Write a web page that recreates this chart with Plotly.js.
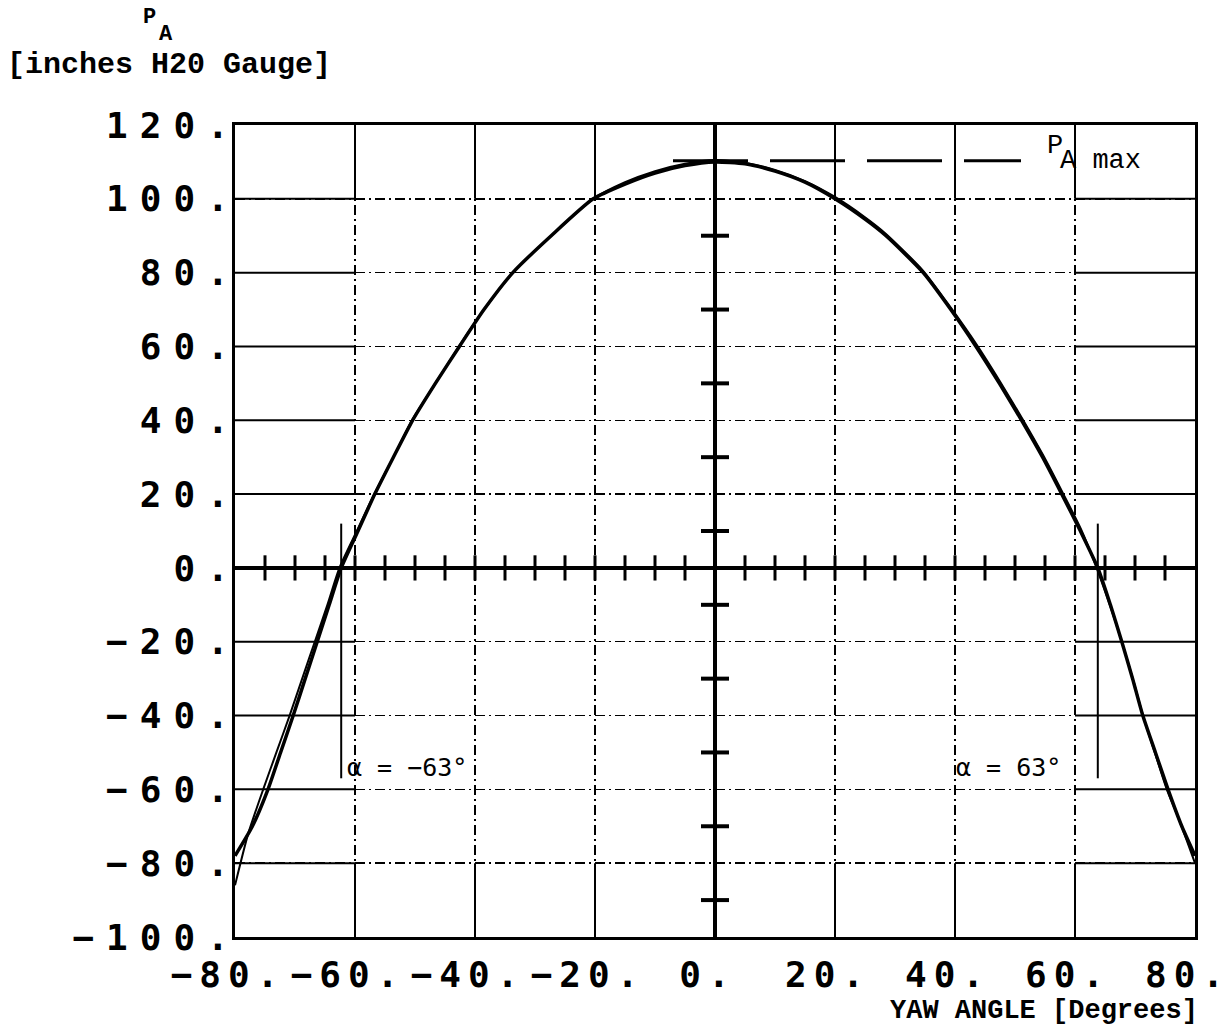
<!DOCTYPE html>
<html>
<head>
<meta charset="utf-8">
<script src="https://cdn.plot.ly/plotly-3.0.1.min.js"></script>
<style>
  html, body { margin: 0; padding: 0; background: #fff; }
  #chart { width: 1232px; height: 1027px; }
  .xtick text { letter-spacing: 7px; }
  .ytick text { letter-spacing: 12px; }
</style>
</head>
<body>
<div id="chart"></div>
<script>
// ---- data ----
// sweep 1 (heavy trace)
const sweep1X = [-80, -77.1, -74.5, -72.4, -70.3, -68.3, -66.3, -64.3, -62.3, -59.5, -56.7, -53.6, -50.4, -46.6, -42.6, -38.5, -33.7, -27.3, -20.3, -15, -10, -5, 0, 5, 10, 15, 20, 25, 28.5, 34.7, 39.3, 43.5, 47.4, 51.1, 54.6, 57.8, 60.9, 63.8, 65.9, 67.8, 69.6, 71.3, 73.4, 75.5, 77.8, 80];
const sweep1Y = [-78, -70, -60, -50, -40, -30, -20, -10, 0, 10, 20, 30, 40, 50, 60, 70, 80, 90, 100, 104, 107, 109, 110, 109.5, 107.5, 104.5, 100, 94.5, 90, 80, 70, 60, 50, 40, 30, 20, 10, 0, -10, -20, -30, -40, -50, -60, -70, -78];
// sweep 2 (lighter trace, nearly coincident)
const sweep2X = [-80, -77.8, -75.3, -73.1, -70.9, -68.8, -66.7, -64.6, -62.6, -59.7, -56.8, -53.6, -50.5, -46.6, -42.7, -38.5, -33.7, -27.3, -20.3, -15, -10, -5, 0, 5, 10, 15, 20, 25, 28.5, 34.7, 39.3, 43.6, 47.5, 51.2, 54.7, 57.9, 61, 63.6, 66.2, 68, 69.8, 71.5, 73.5, 75.3, 77.3, 80];
const sweep2Y = [-86, -72, -60, -50, -40, -30, -20, -10, 0, 10, 20, 30, 40, 50, 60, 70, 80, 90, 100, 104.5, 107.5, 109.5, 110.5, 109.8, 107.8, 104.8, 100.5, 95, 90.5, 80.5, 70.5, 60.5, 50.5, 40.5, 30.5, 20.5, 10.5, 0, -12, -21, -31, -41, -51, -60, -68, -80];

// P_A max reference line
const pamaxX = [-7, 51];
const pamaxY = [110.3, 110.3];

// alpha markers
const alphaX = [-62.3, 63.8];
const alphaTop = 12;
const alphaBottom = -57;
const alphaLabels = ['α = −63°', 'α = 63°'];

// axis ticks / labels
const xTickVals = [-80, -60, -40, -20, 0, 20, 40, 60, 80];
const xTickText = ['−80.', '−60.', '−40.', '−20.', '0.', '20.', '40.', '60.', '80.'];
const yTickVals = [-100, -80, -60, -40, -20, 0, 20, 40, 60, 80, 100, 120];
const yTickText = ['−100.', '−80.', '−60.', '−40.', '−20.', '0.', '20.', '40.', '60.', '80.', '100.', '120.'];
// small tick marks on the zero axes
const xAxisMinorTicks = [-75, -70, -65, -60, -55, -50, -45, -40, -35, -30, -25, -20, -15, -10, -5, 5, 10, 15, 20, 25, 30, 35, 40, 45, 50, 55, 60, 65, 70, 75];
const yAxisMinorTicks = [-90, -70, -50, -30, -10, 10, 30, 50, 70, 90];

// ---- build ----
const XMIN = -80, XMAX = 80, YMIN = -100, YMAX = 120;
const black = '#000';

const traces = [
  { x: xAxisMinorTicks, y: xAxisMinorTicks.map(() => 0), mode: 'markers', hoverinfo: 'skip',
    marker: { symbol: 'line-ns', size: 18, color: black, line: { color: black, width: 3 } } },
  { x: yAxisMinorTicks.map(() => 0), y: yAxisMinorTicks, mode: 'markers', hoverinfo: 'skip',
    marker: { symbol: 'line-ew', size: 20, color: black, line: { color: black, width: 4 } } },
  { x: sweep2X, y: sweep2Y, mode: 'lines', line: { color: black, width: 2, shape: 'spline', smoothing: 0.6 } },
  { x: sweep1X, y: sweep1Y, mode: 'lines', line: { color: black, width: 3.5, shape: 'spline', smoothing: 0.6 } },
  { x: pamaxX, y: pamaxY, mode: 'lines', line: { color: black, width: 3, dash: '75px,22px' } },
  { x: [alphaX[0], alphaX[0]], y: [alphaTop, alphaBottom], mode: 'lines', line: { color: black, width: 2 } },
  { x: [alphaX[1], alphaX[1]], y: [alphaTop, alphaBottom], mode: 'lines', line: { color: black, width: 2 } }
];

// solid grid segments near the frame (one cell in from each edge)
const shapes = [];
yTickVals.filter(v => v > YMIN && v < YMAX).forEach(v => {
  shapes.push({ type: 'line', layer: 'below', x0: XMIN, x1: XMIN + 20, y0: v, y1: v, line: { color: black, width: 2 } });
  shapes.push({ type: 'line', layer: 'below', x0: XMAX - 20, x1: XMAX, y0: v, y1: v, line: { color: black, width: 2 } });
});
xTickVals.filter(v => v > XMIN && v < XMAX).forEach(v => {
  shapes.push({ type: 'line', layer: 'below', x0: v, x1: v, y0: YMIN, y1: YMIN + 20, line: { color: black, width: 2 } });
  shapes.push({ type: 'line', layer: 'below', x0: v, x1: v, y0: YMAX - 20, y1: YMAX, line: { color: black, width: 2 } });
});

const tickFont = { family: 'DejaVu Sans Mono', size: 36, color: black, weight: 'bold' };
const plainLabel = { family: 'Liberation Mono', size: 27, color: black };

// paper coords helpers (plot area: x 235..1195, y 125..937)
const px = p => (p - 235) / 960;
const py = p => (937 - p) / 812;

const layout = {
  width: 1232, height: 1027,
  margin: { l: 235, r: 37, t: 125, b: 90 },
  paper_bgcolor: '#fff', plot_bgcolor: '#fff',
  showlegend: false,
  xaxis: {
    range: [XMIN, XMAX], tickvals: xTickVals, ticktext: xTickText, tickangle: 0,
    tickfont: tickFont, ticks: '', ticklabelstandoff: 4, ticklabelshift: -7, ticklabeloverflow: 'allow',
    showgrid: true, gridcolor: black, gridwidth: 1.5, griddash: '10px,4px,2px,4px',
    zeroline: true, zerolinecolor: black, zerolinewidth: 4,
    showline: true, mirror: true, linecolor: black, linewidth: 3
  },
  yaxis: {
    range: [YMIN, YMAX], tickvals: yTickVals, ticktext: yTickText,
    tickfont: tickFont, ticks: '', ticklabelstandoff: -16, ticklabeloverflow: 'allow',
    showgrid: true, gridcolor: black, gridwidth: 1.5, griddash: '10px,4px,2px,4px',
    zeroline: true, zerolinecolor: black, zerolinewidth: 4,
    showline: true, mirror: true, linecolor: black, linewidth: 3
  },
  shapes: shapes,
  annotations: [
    { xref: 'paper', yref: 'paper', x: px(141), y: py(17), xanchor: 'left', yanchor: 'middle', showarrow: false,
      text: 'P', font: { family: 'Liberation Mono', size: 22, color: black, weight: 'bold' } },
    { xref: 'paper', yref: 'paper', x: px(157), y: py(34), xanchor: 'left', yanchor: 'middle', showarrow: false,
      text: 'A', font: { family: 'Liberation Mono', size: 22, color: black, weight: 'bold' } },
    { xref: 'paper', yref: 'paper', x: px(5), y: py(65), xanchor: 'left', yanchor: 'middle', showarrow: false,
      text: '[inches H20 Gauge]', font: { family: 'Liberation Mono', size: 30, color: black, weight: 'bold' } },
    { xref: 'paper', yref: 'paper', x: px(1200), y: py(1011), xanchor: 'right', yanchor: 'middle', showarrow: false,
      text: 'YAW ANGLE [Degrees]', font: { family: 'Liberation Mono', size: 27, color: black, weight: 'bold' } },
    { xref: 'paper', yref: 'paper', x: px(1045), y: py(146), xanchor: 'left', yanchor: 'middle', showarrow: false,
      text: 'P', font: plainLabel },
    { xref: 'paper', yref: 'paper', x: px(1058), y: py(161), xanchor: 'left', yanchor: 'middle', showarrow: false,
      text: 'A max', font: plainLabel },
    { xref: 'x', yref: 'y', x: alphaX[0] + 0.6, y: -54, xanchor: 'left', yanchor: 'middle', showarrow: false,
      text: alphaLabels[0], font: { family: 'DejaVu Sans Mono', size: 25, color: black } },
    { xref: 'x', yref: 'y', x: alphaX[1] - 5.8, y: -54, xanchor: 'right', yanchor: 'middle', showarrow: false,
      text: alphaLabels[1], font: { family: 'DejaVu Sans Mono', size: 25, color: black } }
  ]
};

Plotly.newPlot('chart', traces, layout, { displayModeBar: false, staticPlot: true });
</script>
</body>
</html>
